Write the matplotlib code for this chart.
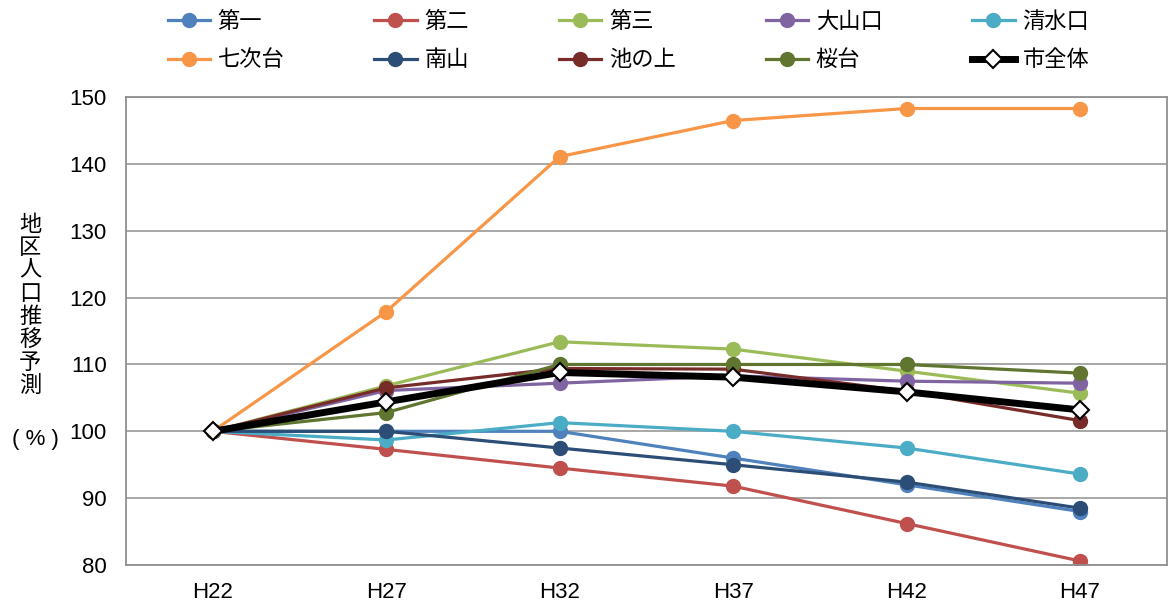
import matplotlib
matplotlib.use('Agg')
import matplotlib.pyplot as plt

plt.rcParams['font.family'] = ['Liberation Sans', 'Noto Sans CJK JP', 'DejaVu Sans']

years = ['H22', 'H27', 'H32', 'H37', 'H42', 'H47']

daiichi   = [100, 100.0, 100.0, 96.0, 92.0, 88.0]
daini     = [100, 97.3, 94.5, 91.8, 86.2, 80.6]
daisan    = [100, 106.8, 113.4, 112.3, 109.0, 105.7]
ooyamaguchi = [100, 106.1, 107.2, 108.3, 107.5, 107.2]
shimizuguchi = [100, 98.7, 101.3, 100.0, 97.5, 93.6]
nanajidai = [100, 117.9, 141.1, 146.5, 148.3, 148.3]
minamiyama = [100, 100.0, 97.5, 95.0, 92.4, 88.5]
ikenoue   = [100, 106.5, 109.4, 109.3, 106.0, 101.6]
sakuradai = [100, 102.8, 110.0, 110.0, 110.0, 108.7]
shizentai = [100, 104.4, 108.8, 108.1, 105.9, 103.2]

series = [
    ('第一', daiichi, '#4F81BD'),
    ('第二', daini, '#C0504D'),
    ('第三', daisan, '#9BBB59'),
    ('大山口', ooyamaguchi, '#8064A2'),
    ('清水口', shimizuguchi, '#4BACC6'),
    ('七次台', nanajidai, '#F79646'),
    ('南山', minamiyama, '#2C4D75'),
    ('池の上', ikenoue, '#772C2A'),
    ('桜台', sakuradai, '#5F7530'),
]

fig = plt.figure(figsize=(11.68, 6.06), dpi=100)
ax = fig.add_axes([0.1079, 0.0677, 0.891, 0.772])

x = list(range(len(years)))
handles = []
for name, vals, col in series:
    h, = ax.plot(x, vals, color=col, lw=2.3, marker='o', markersize=10,
                 markeredgecolor=col, label=name)
    handles.append(h)
h, = ax.plot(x, shizentai, color='black', lw=5, marker='D', markersize=9,
             markerfacecolor='white', markeredgecolor='black',
             markeredgewidth=1.5, label='市全体')
handles.append(h)

ax.set_xlim(-0.5, 5.5)
ax.set_ylim(80, 150)
ax.set_yticks(range(80, 151, 10))
ax.set_xticks(x)
ax.set_xticklabels(years)
ax.tick_params(length=0, labelsize=16, pad=12)
ax.tick_params(axis='y', pad=14)
ax.grid(axis='y', color='#a0a0a0', lw=1.3)
ax.set_axisbelow(True)
for s in ax.spines.values():
    s.set_color('#909090')
    s.set_linewidth(1.3)

# column-wise ordering so legend reads row by row
order = [0, 5, 1, 6, 2, 7, 3, 8, 4, 9]
fig.legend([handles[i] for i in order], [handles[i].get_label() for i in order],
           ncol=5, loc='upper center', bbox_to_anchor=(0.538, 1.014),
           frameon=False, fontsize=16, handlelength=1.9, handletextpad=0.35,
           columnspacing=4.05, labelspacing=0.8)

fig.text(0.026, 0.497, '\n'.join('地区人口推移予測'), fontsize=16,
         ha='center', va='center', linespacing=1.0,
         family=['Noto Sans CJK JP', 'DejaVu Sans'])
fig.text(0.03, 0.274, '( % )', fontsize=16, ha='center', va='center')

fig.savefig('out.png', dpi=100)
